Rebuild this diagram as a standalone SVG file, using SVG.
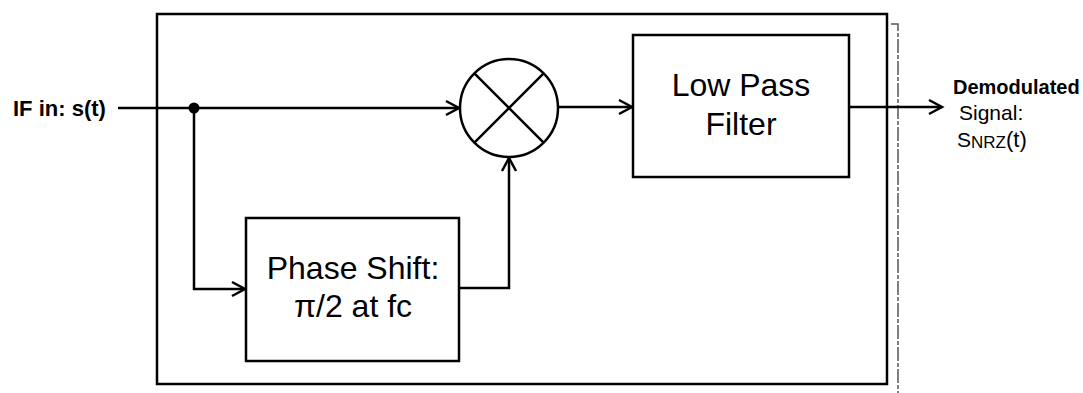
<svg xmlns="http://www.w3.org/2000/svg" width="1083" height="393" viewBox="0 0 1083 393">
<style>
.ln{fill:none;stroke:#000;stroke-width:2.5}
.box{fill:#fff;stroke:#000;stroke-width:2.5}
.lbl{font-family:"Liberation Sans",Arial,sans-serif;fill:#000}
.big{font-size:32px;text-anchor:middle}
.sm{font-size:20px}
.b{font-weight:bold}
</style>
<defs>
<marker id="arr" markerUnits="userSpaceOnUse" markerWidth="16" markerHeight="16" refX="13" refY="7" orient="auto" overflow="visible">
<path d="M0,0 L13,7 L0,14" fill="none" stroke="#000" stroke-width="2.5"/>
</marker>
</defs>
<rect width="1083" height="393" fill="#fff"/>
<g id="frame">
<rect x="157" y="14" width="730" height="370" class="ln"/>
<path d="M891,24 H898 V393" fill="none" stroke="#555" stroke-width="1.5" stroke-dasharray="14,2,4,2"/>
</g>
<g id="connectors">
<path d="M118,108 H459" class="ln" marker-end="url(#arr)"/>
<path d="M194,108 V289 H245" class="ln" marker-end="url(#arr)"/>
<path d="M460,288 H509 V158" class="ln" marker-end="url(#arr)"/>
<path d="M558,107 H632" class="ln" marker-end="url(#arr)"/>
<path d="M849,107 H942" class="ln" marker-end="url(#arr)"/>
<circle cx="194" cy="108" r="5.5" fill="#000"/>
</g>
<g id="input">
<text x="13" y="116" class="lbl b" font-size="22">IF in: s(t)</text>
</g>
<g id="mixer">
<circle cx="509" cy="108" r="49" class="box"/>
<path d="M474.4,73.4 L543.6,142.6 M543.6,73.4 L474.4,142.6" class="ln"/>
</g>
<g id="phaseshift">
<rect x="246" y="218" width="213" height="143" class="box"/>
<text x="353" y="279" class="lbl big">Phase Shift:</text>
<text x="353" y="317" class="lbl big">π/2 at fc</text>
</g>
<g id="lpf">
<rect x="633" y="35" width="216" height="142" class="box"/>
<text x="741" y="96" class="lbl big">Low Pass</text>
<text x="741" y="135" class="lbl big">Filter</text>
</g>
<g id="output">
<text x="953" y="94" class="lbl sm b">Demodulated</text>
<text x="959" y="120" class="lbl" font-size="21">Signal:</text>
<text x="957" y="147" class="lbl" font-size="21">S<tspan font-size="17" dy="1">NRZ</tspan><tspan dy="-1" font-size="22">(t)</tspan></text>
</g>
</svg>
